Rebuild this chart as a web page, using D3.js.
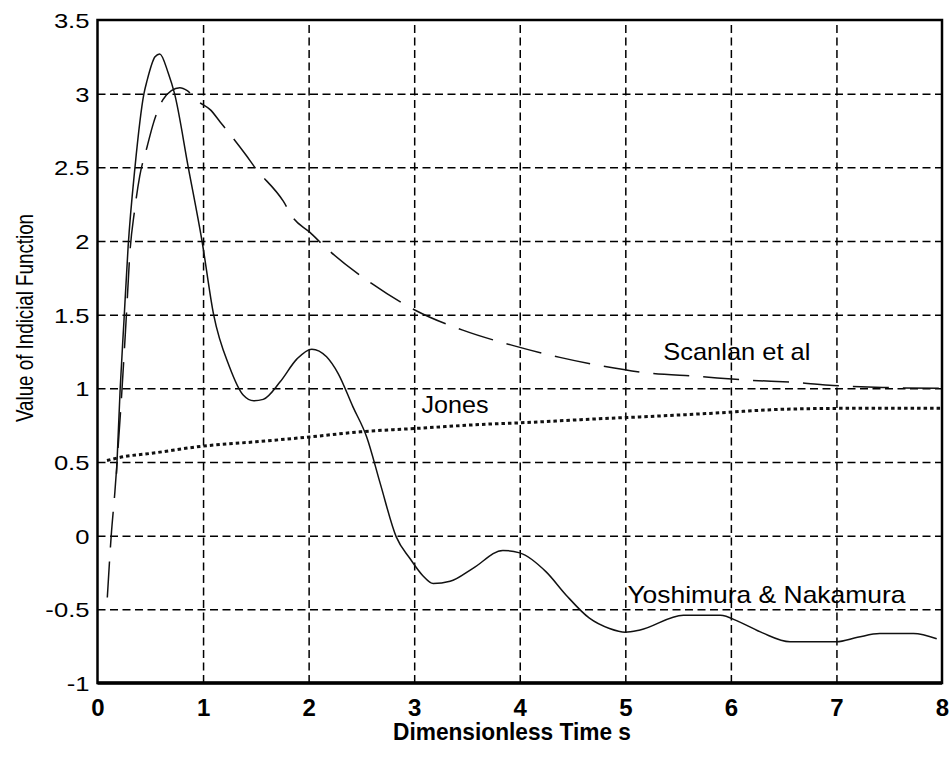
<!DOCTYPE html>
<html>
<head>
<meta charset="utf-8">
<script src="https://d3js.org/d3.v7.min.js"></script>
<style>
	body { margin: 0; background: #fff; }
	text { font-family: "Liberation Sans", Arial, sans-serif; fill: #000; }
</style>
</head>
<body>
<div id="chart"></div>
<script>
// values: [time, value]
const yoshimuraT = [0.18, 0.215, 0.25, 0.29, 0.355, 0.44, 0.47, 0.545, 0.59, 0.67, 0.73, 0.86, 0.99, 1.1, 1.25, 1.38, 1.48, 1.57, 1.73, 1.89, 2.03, 2.17, 2.28, 2.42, 2.55, 2.68, 2.83, 2.96, 3.08, 3.18, 3.34, 3.56, 3.84, 4.0, 4.25, 4.44, 4.66, 4.85, 5.0, 5.14, 5.55, 5.9, 6.08, 6.3, 6.56, 7.0, 7.2, 7.41, 7.73, 7.95];
const yoshimuraV = [0.42, 1.0, 1.45, 1.96, 2.5, 3.0, 3.09, 3.25, 3.27, 3.14, 3.0, 2.5, 2.0, 1.5, 1.146, 0.954, 0.915, 0.925, 1.044, 1.2, 1.266, 1.214, 1.1, 0.874, 0.67, 0.35, -0.008, -0.155, -0.27, -0.325, -0.31, -0.22, -0.1, -0.117, -0.246, -0.404, -0.56, -0.63, -0.655, -0.64, -0.54, -0.54, -0.585, -0.66, -0.72, -0.72, -0.69, -0.664, -0.664, -0.7];

const scanlanT = [0.093, 0.13, 0.165, 0.2, 0.23, 0.27, 0.31, 0.35, 0.4, 0.47, 0.53, 0.62, 0.7, 0.78, 0.85, 0.95, 1.07, 1.16, 1.41, 1.49, 1.76, 1.85, 2.01, 2.17, 2.6, 3.01, 3.46, 3.94, 4.38, 4.79, 5.14, 5.71, 6.15, 6.62, 6.97, 7.44, 8.0];
const scanlanV = [-0.42, 0.0, 0.3, 0.65, 0.97, 1.45, 1.95, 2.2, 2.44, 2.64, 2.8, 2.96, 3.02, 3.04, 3.02, 2.95, 2.89, 2.81, 2.58, 2.5, 2.27, 2.16, 2.06, 1.95, 1.71, 1.53, 1.395, 1.29, 1.21, 1.15, 1.11, 1.08, 1.056, 1.04, 1.02, 1.006, 1.0];

const jonesT = [0.09, 0.24, 0.5, 1.0, 1.5, 2.01, 2.49, 3.02, 3.69, 4.0, 4.79, 5.14, 5.8, 6.46, 7.06, 8.0];
const jonesV = [0.51, 0.535, 0.558, 0.608, 0.637, 0.67, 0.705, 0.728, 0.757, 0.766, 0.795, 0.806, 0.83, 0.857, 0.864, 0.864];

const xTicks = [0, 1, 2, 3, 4, 5, 6, 7, 8];
const yTicks = [-1, -0.5, 0, 0.5, 1, 1.5, 2, 2.5, 3, 3.5];

// label text and where it sits in data units
const notes = [
	{text: "Scanlan et al", t: 5.36, v: 1.19, len: 147},
	{text: "Jones", t: 3.07, v: 0.83, len: 67},
	{text: "Yoshimura & Nakamura", t: 5.02, v: -0.46, len: 278}
];

class IndicialChart {
	constructor() {
		this.margin = {top: 20, right: 10, bottom: 75, left: 97.5};
		this.width = 952 - this.margin.left - this.margin.right;
		this.height = 758 - this.margin.top - this.margin.bottom;
		this.initVis();
	}

	initVis() {
		let vis = this;

		vis.svg = d3.select("#chart").append("svg")
			.attr("width", 952)
			.attr("height", 758);

		vis.g = vis.svg.append("g")
			.attr("transform", `translate(${vis.margin.left}, ${vis.margin.top})`);

		vis.x = d3.scaleLinear().domain([0, 8]).range([0, vis.width]);
		vis.y = d3.scaleLinear().domain([-1, 3.5]).range([vis.height, 0]);

		// dashed grid
		vis.g.append("g").attr("class", "grid-x")
			.attr("transform", `translate(0, ${vis.height})`)
			.call(d3.axisBottom(vis.x).tickValues(xTicks.slice(1, -1)).tickSize(-vis.height).tickFormat(""))
			.call(g => g.select(".domain").remove())
			.selectAll("line")
			.attr("stroke", "#000").attr("stroke-width", 1.5).attr("stroke-dasharray", "8,4.5");

		vis.g.append("g").attr("class", "grid-y")
			.call(d3.axisLeft(vis.y).tickValues(yTicks.slice(1, -1)).tickSize(-vis.width).tickFormat(""))
			.call(g => g.select(".domain").remove())
			.selectAll("line")
			.attr("stroke", "#000").attr("stroke-width", 1.5).attr("stroke-dasharray", "8,4.5");

		// tick labels
		vis.xAxisG = vis.g.append("g")
			.attr("transform", `translate(0, ${vis.height})`)
			.call(d3.axisBottom(vis.x).tickValues(xTicks).tickSize(0).tickPadding(0).tickFormat(d3.format("d")));
		vis.xAxisG.select(".domain").remove();
		vis.xAxisG.selectAll("text")
			.attr("y", 33).attr("dy", 0)
			.style("font-size", "24px").style("font-weight", "900")
			.style("font-family", "'Liberation Sans', Arial, sans-serif");

		vis.yAxisG = vis.g.append("g")
			.call(d3.axisLeft(vis.y).tickValues(yTicks).tickSize(0).tickPadding(0).tickFormat(d => d));
		vis.yAxisG.select(".domain").remove();
		vis.yAxisG.selectAll("text")
			.attr("x", -8).attr("dy", "0.36em")
			.style("font-size", "21px")
			.style("font-family", "'Liberation Sans', Arial, sans-serif")
			.each(function () {
				// the original lettering is a bit wider than Liberation Sans
				let w = this.getComputedTextLength();
				d3.select(this).attr("textLength", w * 1.22).attr("lengthAdjust", "spacingAndGlyphs");
			});

		// axis titles
		vis.svg.append("text")
			.attr("x", 393).attr("y", 740)
			.attr("textLength", 238).attr("lengthAdjust", "spacingAndGlyphs")
			.style("font-size", "23px").style("font-weight", "900")
			.text("Dimensionless Time s");

		vis.svg.append("text")
			.attr("transform", "translate(33, 318) rotate(-90)")
			.attr("text-anchor", "middle")
			.attr("textLength", 208).attr("lengthAdjust", "spacingAndGlyphs")
			.style("font-size", "24px")
			.text("Value of Indicial Function");

		vis.renderVis();
	}

	renderVis() {
		let vis = this;

		let line = d3.line()
			.x(d => vis.x(d[0]))
			.y(d => vis.y(d[1]))
			.curve(d3.curveMonotoneX);

		let series = [
			{t: yoshimuraT, v: yoshimuraV, dash: null, w: 1.5},
			{t: scanlanT, v: scanlanV, dash: "36,14", w: 1.5},
			{t: jonesT, v: jonesV, dash: "3.5,3", w: 3}
		];

		vis.g.selectAll("path.curve")
			.data(series)
			.enter()
			.append("path")
			.attr("class", "curve")
			.attr("d", s => line(s.t.map((t, i) => [t, s.v[i]])))
			.attr("fill", "none")
			.attr("stroke", "#111")
			.attr("stroke-width", s => s.w)
			.attr("stroke-dasharray", s => s.dash);

		vis.g.selectAll("text.note")
			.data(notes)
			.enter()
			.append("text")
			.attr("class", "note")
			.attr("x", d => vis.x(d.t))
			.attr("y", d => vis.y(d.v))
			.attr("textLength", d => d.len)
			.attr("lengthAdjust", "spacingAndGlyphs")
			.style("font-size", "24px")
			.text(d => d.text);

		// frame, with a heavier bottom edge
		vis.g.append("rect")
			.attr("width", vis.width).attr("height", vis.height)
			.attr("fill", "none").attr("stroke", "#000").attr("stroke-width", 2.5);
		vis.g.append("line")
			.attr("x1", 0).attr("x2", vis.width)
			.attr("y1", vis.height).attr("y2", vis.height)
			.attr("stroke", "#000").attr("stroke-width", 3.5);
	}
}

new IndicialChart();
</script>
</body>
</html>
